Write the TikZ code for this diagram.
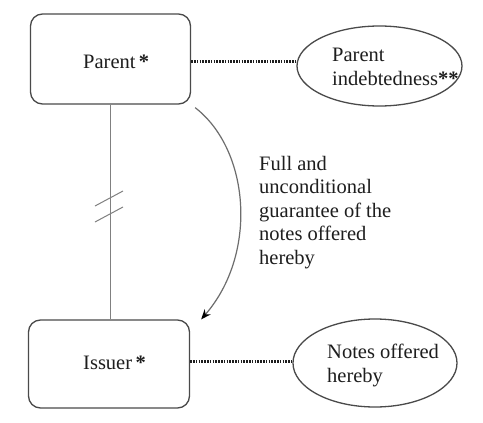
\documentclass[tikz,border=0pt]{standalone}
\usepackage{fontspec}
\setmainfont{Liberation Serif}
\usetikzlibrary{shapes.geometric,arrows.meta}
\definecolor{boxline}{HTML}{4A4A4A}
\definecolor{thinline}{HTML}{808080}
\definecolor{txt}{HTML}{1E1E1E}
\begin{document}
\begin{tikzpicture}[x=1pt,y=-1pt,
  entity/.style={draw=boxline,line width=1.3pt,rounded corners=12pt,inner sep=0pt},
  oval/.style={draw=boxline,line width=1.3pt,ellipse,inner sep=0pt},
  lbl/.style={anchor=base west,inner sep=0pt,text=txt,font=\fontsize{20.5}{23.5}\selectfont,align=left},
  link/.style={draw=txt,line width=3pt,dash pattern=on 1.7pt off 1.1pt},
  own/.style={draw=thinline,line width=1pt}
]
\useasboundingbox (0,0) rectangle (483,423);
\fill[white] (0,0) rectangle (483,423);
% boxes
\node[entity,minimum width=160pt,minimum height=90pt] (parent) at (110.5,59) {};
\node[entity,minimum width=161pt,minimum height=88pt] (issuer) at (109,364) {};
% ellipses
\node[oval,minimum width=165pt,minimum height=80pt] (pdebt) at (379.5,66) {};
\node[oval,minimum width=164pt,minimum height=88pt] (notes) at (375,363) {};
% labels
\node[lbl] (parentlbl) at (83,68) {Parent\,\textbf{*}};
\node[lbl] (issuerlbl) at (83,369) {Issuer\,\textbf{*}};
\node[lbl] (pdebtlbl) at (332,85) {Parent\\indebtedness\textbf{**}};
\node[lbl] (noteslbl) at (327,382) {Notes offered\\hereby};
\node[lbl] (guarlbl) at (259,264) {Full and\\unconditional\\guarantee of the\\notes offered\\hereby};
% dotted links
\draw[link] (parent.east |- 0,61) -- (pdebt.west |- 0,61);
\draw[link] (issuer.east |- 0,361) -- (notes.west |- 0,361);
% ownership line with break marks
\draw[own] (parent.south -| 110,0) -- (issuer.north -| 110,0);
\coordinate (s1a) at (95,206); \coordinate (s1b) at (123,191);
\coordinate (s2a) at (95,222); \coordinate (s2b) at (123,207);
\draw[own] (s1a) -- (s1b);
\draw[own] (s2a) -- (s2b);
% guarantee arrow
\coordinate (gstart) at ([shift={(4,3)}]parent.south east);
\coordinate (gend) at ([shift={(11,0)}]issuer.north east);
\draw[draw=thinline!85!black,line width=1.2pt,-{Stealth[length=10pt,width=8pt,fill=black,color=black]}]
  (gstart) .. controls (250,150) and (258,254) .. (gend);
\end{tikzpicture}
\end{document}
